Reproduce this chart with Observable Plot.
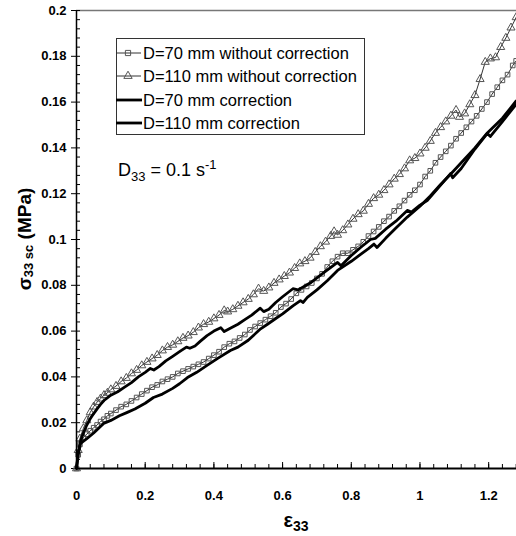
<!DOCTYPE html>
<html><head><meta charset="utf-8">
<script src="https://cdn.jsdelivr.net/npm/d3@7"></script>
<script src="https://cdn.jsdelivr.net/npm/@observablehq/plot@0.6"></script>
<style>
html,body{margin:0;padding:0;background:#fff;}
#chart svg{display:block;}
</style>
</head><body><div id="chart"></div>
<script>
// D=110 mm without correction (triangles)
const tri110 = [
[0,0],[0.005,0.008],[0.01,0.013],[0.02,0.0175],[0.03,0.021],[0.04,0.0245],[0.05,0.027],[0.06,0.029],[0.07,0.0305],[0.08,0.032],[0.09,0.033],[0.10,0.0345],[0.115,0.036],[0.13,0.038],[0.145,0.0395],[0.16,0.0415],[0.175,0.043],[0.19,0.045],[0.205,0.0465],[0.22,0.048],[0.235,0.0495],[0.25,0.0515],[0.265,0.053],[0.28,0.054],[0.295,0.0555],[0.31,0.057],[0.325,0.058],[0.34,0.0595],[0.355,0.0615],[0.37,0.063],[0.385,0.064],[0.40,0.0655],[0.415,0.067],[0.43,0.069],[0.44,0.0685],[0.455,0.0695],[0.47,0.071],[0.485,0.0725],[0.50,0.074],[0.515,0.076],[0.53,0.0785],[0.545,0.0775],[0.56,0.079],[0.575,0.081],[0.59,0.0825],[0.605,0.084],[0.62,0.0855],[0.635,0.0875],[0.65,0.0895],[0.665,0.0905],[0.68,0.092],[0.695,0.0945],[0.71,0.097],[0.725,0.099],[0.74,0.1015],[0.75,0.1035],[0.76,0.102],[0.775,0.104],[0.79,0.1065],[0.805,0.109],[0.82,0.111],[0.835,0.1125],[0.85,0.1155],[0.865,0.118],[0.88,0.1195],[0.895,0.1215],[0.91,0.124],[0.925,0.1265],[0.94,0.1285],[0.955,0.131],[0.97,0.1345],[0.985,0.1355],[1.00,0.1375],[1.015,0.140],[1.03,0.143],[1.045,0.1465],[1.06,0.149],[1.075,0.1515],[1.09,0.154],[1.105,0.1565],[1.115,0.1535],[1.13,0.155],[1.145,0.159],[1.16,0.163],[1.175,0.170],[1.19,0.1775],[1.205,0.179],[1.22,0.1795],[1.235,0.184],[1.25,0.188],[1.265,0.1925],[1.28,0.197]
];
// D=70 mm without correction (squares)
const sq70 = [
[0,0],[0.005,0.006],[0.01,0.0105],[0.02,0.0135],[0.03,0.015],[0.04,0.0165],[0.05,0.0178],[0.06,0.019],[0.07,0.0205],[0.08,0.0215],[0.09,0.023],[0.10,0.024],[0.115,0.0255],[0.13,0.027],[0.145,0.028],[0.16,0.0295],[0.175,0.031],[0.19,0.0325],[0.205,0.034],[0.22,0.0355],[0.235,0.0365],[0.25,0.038],[0.265,0.039],[0.28,0.040],[0.295,0.0415],[0.31,0.0425],[0.325,0.0435],[0.34,0.0445],[0.355,0.0455],[0.37,0.0465],[0.385,0.048],[0.40,0.0495],[0.415,0.051],[0.43,0.053],[0.445,0.0545],[0.46,0.0555],[0.475,0.057],[0.49,0.0585],[0.505,0.0605],[0.52,0.062],[0.535,0.0635],[0.55,0.065],[0.565,0.0665],[0.58,0.068],[0.595,0.0705],[0.61,0.072],[0.625,0.074],[0.64,0.0765],[0.655,0.078],[0.67,0.0795],[0.685,0.081],[0.70,0.083],[0.715,0.085],[0.73,0.088],[0.745,0.0905],[0.76,0.0925],[0.775,0.094],[0.79,0.094],[0.805,0.0955],[0.82,0.097],[0.835,0.099],[0.85,0.1015],[0.865,0.1035],[0.88,0.1055],[0.895,0.108],[0.91,0.110],[0.925,0.1125],[0.94,0.1145],[0.955,0.117],[0.97,0.1195],[0.985,0.1215],[1.00,0.124],[1.015,0.1275],[1.03,0.130],[1.045,0.1335],[1.06,0.136],[1.075,0.1385],[1.09,0.141],[1.105,0.144],[1.12,0.1465],[1.135,0.149],[1.15,0.1515],[1.165,0.154],[1.18,0.157],[1.195,0.160],[1.21,0.1635],[1.225,0.1665],[1.24,0.1695],[1.255,0.172],[1.27,0.176],[1.28,0.178]
];
// D=110 mm correction (upper thick line)
const cor110 = [
[0,0],[0.005,0.007],[0.012,0.012],[0.02,0.0155],[0.03,0.019],[0.041,0.022],[0.05,0.024],[0.06,0.026],[0.07,0.028],[0.08,0.0297],[0.10,0.032],[0.12,0.0335],[0.14,0.0355],[0.16,0.0375],[0.18,0.040],[0.20,0.042],[0.215,0.0437],[0.225,0.043],[0.24,0.0445],[0.26,0.047],[0.28,0.049],[0.30,0.051],[0.32,0.053],[0.33,0.0525],[0.345,0.0535],[0.36,0.0555],[0.38,0.058],[0.40,0.060],[0.42,0.0615],[0.43,0.0598],[0.445,0.061],[0.47,0.063],[0.49,0.065],[0.51,0.067],[0.535,0.070],[0.545,0.0685],[0.56,0.0695],[0.58,0.0725],[0.60,0.075],[0.63,0.0785],[0.645,0.078],[0.68,0.081],[0.72,0.0855],[0.76,0.090],[0.77,0.0885],[0.80,0.093],[0.827,0.0965],[0.856,0.100],[0.87,0.1005],[0.90,0.1045],[0.93,0.108],[0.963,0.1127],[0.975,0.112],[1.00,0.115],[1.021,0.117],[1.05,0.122],[1.089,0.1288],[1.095,0.127],[1.12,0.131],[1.16,0.1395],[1.196,0.1463],[1.205,0.145],[1.24,0.1515],[1.28,0.159]
];
// D=70 mm correction (lower thick line)
const cor70 = [
[0,0],[0.005,0.006],[0.012,0.011],[0.03,0.013],[0.05,0.0155],[0.079,0.0197],[0.10,0.021],[0.125,0.023],[0.148,0.0245],[0.17,0.026],[0.20,0.0285],[0.224,0.031],[0.25,0.0325],[0.28,0.035],[0.30,0.037],[0.323,0.0397],[0.35,0.042],[0.38,0.045],[0.41,0.048],[0.448,0.0515],[0.47,0.053],[0.50,0.056],[0.536,0.061],[0.556,0.063],[0.58,0.0655],[0.60,0.0675],[0.63,0.071],[0.652,0.0733],[0.66,0.0725],[0.672,0.0747],[0.70,0.078],[0.73,0.082],[0.76,0.0865],[0.80,0.0905],[0.827,0.0935],[0.85,0.096],[0.866,0.098],[0.875,0.0965],[0.90,0.1005],[0.93,0.105],[0.963,0.1098],[1.00,0.1145],[1.03,0.119],[1.06,0.124],[1.089,0.1285],[1.12,0.1335],[1.16,0.140],[1.196,0.1465],[1.24,0.153],[1.28,0.1605]
];
const xTicks = [0,0.2,0.4,0.6,0.8,1,1.2];
const xTickLabels = ["0","0.2","0.4","0.6","0.8","1","1.2"];
const yTicks = [0,0.02,0.04,0.06,0.08,0.1,0.12,0.14,0.16,0.18,0.2];
const yTickLabels = ["0","0.02","0.04","0.06","0.08","0.1","0.12","0.14","0.16","0.18","0.2"];
const legendLabels = ["D=70 mm without correction","D=110 mm without correction","D=70 mm correction","D=110 mm correction"];

const xMinor = d3.range(0, 1.281, 0.04);
const yMinor = d3.range(0, 0.2001, 0.004);
const font = "Liberation Sans, Arial, sans-serif";

const W = 516, H = 536;
const chart = Plot.plot({
  width: W, height: H,
  marginLeft: 76, marginRight: 0, marginTop: 10, marginBottom: 68,
  style: {fontFamily: font, background: "#fff"},
  x: {domain: [0, 1.281]},
  y: {domain: [0, 0.2]},
  marks: [
    Plot.ruleY([0.2], {stroke: "#777", strokeWidth: 1.5}),
    Plot.axisX(xMinor, {tickSize: -4, text: null, stroke: "#000"}),
    Plot.axisX(xTicks, {tickSize: -6, text: null, stroke: "#000"}),
    Plot.axisX(xTicks, {tickSize: 0, tickPadding: 22, tickFormat: (d, i) => xTickLabels[i], fontSize: 13, fontWeight: "bold", fill: "#000"}),
    Plot.axisY(yMinor, {tickSize: -4, text: null, stroke: "#000"}),
    Plot.axisY(yTicks, {tickSize: 5, tickPadding: 5, tickFormat: (d, i) => yTickLabels[i], fontSize: 13, fontWeight: "bold", fill: "#000", stroke: "#000"}),
    Plot.line(sq70, {x: d => d[0], y: d => d[1], stroke: "#333", strokeWidth: 1}),
    Plot.dot(sq70, {x: d => d[0], y: d => d[1], symbol: "square", r: 2.6, stroke: "#555", strokeWidth: 1, fill: "none"}),
    Plot.line(tri110, {x: d => d[0], y: d => d[1], stroke: "#333", strokeWidth: 1}),
    Plot.dot(tri110, {x: d => d[0], y: d => d[1], symbol: "triangle", r: 3, stroke: "#555", strokeWidth: 1, fill: "none"}),
    Plot.line(cor70, {x: d => d[0], y: d => d[1], stroke: "#000", strokeWidth: 2.8}),
    Plot.line(cor110, {x: d => d[0], y: d => d[1], stroke: "#000", strokeWidth: 2.8}),
    Plot.ruleX([0], {stroke: "#000", strokeWidth: 1.5}),
    Plot.ruleY([0], {stroke: "#000", strokeWidth: 2})
  ]
});
document.getElementById("chart").appendChild(chart);

const svg = d3.select(chart);
// legend
const lg = svg.append("g").attr("font-family", font).attr("text-anchor", "start");
lg.append("rect").attr("x", 116.5).attr("y", 38.5).attr("width", 248).attr("height", 96)
  .attr("fill", "#fff").attr("stroke", "#333").attr("stroke-width", 1);
const rowsY = [53, 76, 100, 123];
legendLabels.forEach((lab, i) => {
  const y = rowsY[i];
  if (i < 2) {
    lg.append("line").attr("x1", 116).attr("x2", 141).attr("y1", y).attr("y2", y).attr("stroke", "#333").attr("stroke-width", 1);
    const sym = i === 0 ? d3.symbolSquare : d3.symbolTriangle;
    lg.append("path").attr("d", d3.symbol(sym, i === 0 ? 27 : 30)()).attr("transform", `translate(128,${y})`)
      .attr("fill", "none").attr("stroke", "#555");
  } else {
    lg.append("line").attr("x1", 116).attr("x2", 142).attr("y1", y).attr("y2", y).attr("stroke", "#000").attr("stroke-width", 2.8);
  }
  lg.append("text").attr("x", 143).attr("y", y).attr("dy", "0.36em").attr("font-size", 16.5).text(lab);
});
// annotation
const ann = svg.append("text").attr("x", 118).attr("y", 176).attr("text-anchor", "start").attr("font-family", font).attr("font-size", 18);
ann.append("tspan").text("D");
ann.append("tspan").attr("font-size", 13).attr("dy", 5).text("33");
ann.append("tspan").attr("dy", -5).text(" = 0.1 s");
ann.append("tspan").attr("font-size", 13).attr("dy", -7).text("-1");
// y label
const yl = svg.append("text").attr("transform", `translate(31,239) rotate(-90)`).attr("text-anchor", "middle")
  .attr("font-family", font).attr("font-weight", "bold").attr("font-size", 19);
yl.append("tspan").text("σ");
yl.append("tspan").attr("font-size", 13).attr("dy", 2).text("33 sc");
yl.append("tspan").attr("dy", -2).text(" (MPa)");
// x label
const xl = svg.append("text").attr("x", 296).attr("y", 527).attr("text-anchor", "middle")
  .attr("font-family", font).attr("font-weight", "bold").attr("font-size", 20);
xl.append("tspan").text("ε");
xl.append("tspan").attr("font-size", 14).attr("dy", 4).text("33");
</script>
</body></html>
